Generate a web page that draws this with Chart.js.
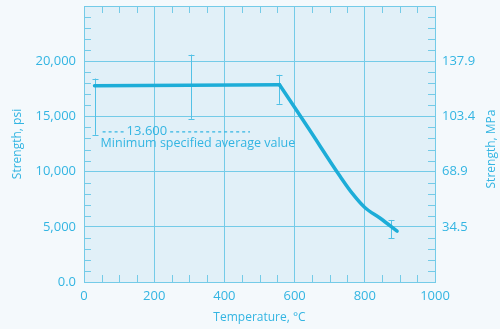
<!DOCTYPE html>
<html><head><meta charset="utf-8">
<script src="https://cdn.jsdelivr.net/npm/chart.js@4/dist/chart.umd.min.js"></script>
<style>html,body{margin:0;padding:0;background:#f4f9fc;}#wrap{width:500px;height:329px;}</style>
</head><body><div id="wrap"><canvas id="c" width="500" height="329"></canvas></div>
<script>
// Flat part: temperature (°C) vs strength (psi)
const flatTemp = [30, 300, 557];
const flatPsi  = [17770, 17820, 17870];
// Falling part
const dropTemp = [557, 640, 730, 765, 800, 845, 892];
const dropPsi  = [17870, 13900, 9550, 8000, 6750, 5750, 4600];
// Error bars
const errTemp = [30, 306, 556, 876];
const errLow  = [13330, 14780, 16140, 3960];
const errHigh = [18430, 20600, 18770, 5620];
// Minimum specified average value line
const minLineValue = 13600;
const minLineFrom = 53, minLineTo = 473;
const minLineLabel = '13.600';
const minTextLabel = 'Minimum specified average value';
// Tick labels
const psiTicks = [0, 5000, 10000, 15000, 20000, 25000];
const psiLabels = ['0.0', '5,000', '10,000', '15,000', '20,000', ''];
const mpaLabels = ['', '34.5', '68.9', '103.4', '137.9', ''];
const tempTicks = [0, 200, 400, 600, 800, 1000];
const tempLabels = ['0', '200', '400', '600', '800', '1000'];

const TXT = '#33b5e2', GRID = '#74cbe8', LINE = '#1dadd8', PLOTBG = '#e1f0f8', PAGEBG = '#f4f9fc';
const FONT = '"Open Sans", sans-serif';

const deco = {
  id: 'deco',
  beforeDraw(chart) {
    const {ctx, chartArea: a} = chart;
    ctx.save();
    ctx.fillStyle = PAGEBG; ctx.fillRect(0, 0, chart.width, chart.height);
    ctx.fillStyle = PLOTBG; ctx.fillRect(a.left, a.top, a.right - a.left, a.bottom - a.top);
    ctx.restore();
  },
  beforeDatasetsDraw(chart) {
    const {ctx, chartArea: a, scales: {x, y}} = chart;
    ctx.save();
    ctx.strokeStyle = GRID; ctx.lineWidth = 1;
    const L = 7;
    for (let t = 50; t < 1000; t += 50) {
      if (t % 200 === 0) continue;
      const px = Math.round(x.getPixelForValue(t)) + 0.5;
      ctx.beginPath();
      ctx.moveTo(px, a.top); ctx.lineTo(px, a.top + L);
      ctx.moveTo(px, a.bottom); ctx.lineTo(px, a.bottom - L);
      ctx.stroke();
    }
    for (let v = 1000; v < 25000; v += 1000) {
      if (v % 5000 === 0) continue;
      const py = Math.round(y.getPixelForValue(v)) + 0.5;
      ctx.beginPath();
      ctx.moveTo(a.left, py); ctx.lineTo(a.left + L, py);
      ctx.moveTo(a.right, py); ctx.lineTo(a.right - L, py);
      ctx.stroke();
    }
    ctx.strokeStyle = '#52c1e6'; ctx.lineWidth = 1;
    errTemp.forEach((t, i) => {
      const px = Math.round(x.getPixelForValue(t)) + 0.5;
      const y1 = y.getPixelForValue(errLow[i]), y2 = y.getPixelForValue(errHigh[i]);
      ctx.beginPath();
      ctx.moveTo(px, y1); ctx.lineTo(px, y2);
      ctx.moveTo(px - 3, Math.round(y1) + 0.5); ctx.lineTo(px + 3, Math.round(y1) + 0.5);
      ctx.moveTo(px - 3, Math.round(y2) + 0.5); ctx.lineTo(px + 3, Math.round(y2) + 0.5);
      ctx.stroke();
    });
    const ly = y.getPixelForValue(minLineValue);
    const lx0 = x.getPixelForValue(minLineFrom), lx1 = x.getPixelForValue(minLineTo);
    ctx.font = '13px ' + FONT;
    ctx.fillStyle = TXT;
    ctx.textBaseline = 'middle';
    const tx = lx0 + 24;
    const tw = ctx.measureText(minLineLabel).width;
    ctx.fillText(minLineLabel, tx, ly - 1);
    ctx.setLineDash([3, 3]);
    ctx.lineWidth = 1.2;
    ctx.strokeStyle = TXT;
    ctx.beginPath();
    ctx.moveTo(lx0, ly); ctx.lineTo(tx - 3, ly);
    ctx.moveTo(tx + tw + 3, ly); ctx.lineTo(lx1, ly);
    ctx.stroke();
    ctx.setLineDash([]);
    ctx.font = '12.5px ' + FONT;
    ctx.fillText(minTextLabel, lx0 - 2, ly + 12);
    ctx.restore();
  },
  afterDraw(chart) {
    const {ctx, chartArea: a} = chart;
    ctx.save();
    ctx.fillStyle = TXT;
    ctx.font = '12px ' + FONT;
    ctx.textAlign = 'center'; ctx.textBaseline = 'middle';
    ctx.translate(492, (a.top + a.bottom) / 2 + 5);
    ctx.rotate(-Math.PI / 2);
    ctx.fillText('Strength, MPa', 0, 0);
    ctx.restore();
  }
};

const lineStyle = {borderColor: LINE, borderWidth: 3.5, pointRadius: 0,
  borderCapStyle: 'round', borderJoinStyle: 'round', fill: false};

const fitV = (w) => (s) => { s.width = w; s.paddingTop = 0; s.paddingBottom = 0; };

new Chart(document.getElementById('c'), {
  type: 'line',
  data: {
    datasets: [
      Object.assign({data: flatTemp.map((t, i) => ({x: t, y: flatPsi[i]})), tension: 0}, lineStyle),
      Object.assign({data: dropTemp.map((t, i) => ({x: t, y: dropPsi[i]})), cubicInterpolationMode: 'monotone'}, lineStyle)
    ]
  },
  options: {
    responsive: false, animation: false, devicePixelRatio: 1,
    layout: {autoPadding: false, padding: {top: 6, left: 0, right: 0, bottom: 0}},
    plugins: {legend: {display: false}, tooltip: {enabled: false}},
    scales: {
      x: {
        type: 'linear', min: 0, max: 1000,
        afterBuildTicks: s => { s.ticks = tempTicks.map(v => ({value: v})); },
        afterFit: s => { s.height = 47; s.paddingLeft = 0; s.paddingRight = 0; },
        grid: {color: GRID, drawTicks: false, lineWidth: 1},
        border: {display: true, color: GRID},
        ticks: {color: TXT, font: {family: FONT, size: 13}, padding: 6, maxRotation: 0,
          callback: (v) => tempLabels[tempTicks.indexOf(v)]},
        title: {display: true, text: 'Temperature, °C', color: TXT, font: {family: FONT, size: 12}, padding: {top: 0, bottom: 4}}
      },
      y: {
        type: 'linear', position: 'left', min: 0, max: 25000,
        afterBuildTicks: s => { s.ticks = psiTicks.map(v => ({value: v})); },
        afterFit: fitV(84),
        grid: {color: GRID, drawTicks: false, lineWidth: 1},
        border: {display: true, color: GRID},
        ticks: {color: TXT, font: {family: FONT, size: 13}, padding: 8,
          callback: (v) => psiLabels[psiTicks.indexOf(v)]},
        title: {display: true, text: 'Strength, psi', color: TXT, font: {family: FONT, size: 12}, padding: {top: 10, bottom: 0}}
      },
      y2: {
        type: 'linear', position: 'right', min: 0, max: 25000,
        afterBuildTicks: s => { s.ticks = psiTicks.map(v => ({value: v})); },
        afterFit: fitV(65),
        grid: {display: false, drawTicks: false},
        border: {display: true, color: GRID},
        ticks: {color: TXT, font: {family: FONT, size: 13}, padding: 7,
          callback: (v) => mpaLabels[psiTicks.indexOf(v)]}
      }
    }
  },
  plugins: [deco]
});
</script></body></html>
